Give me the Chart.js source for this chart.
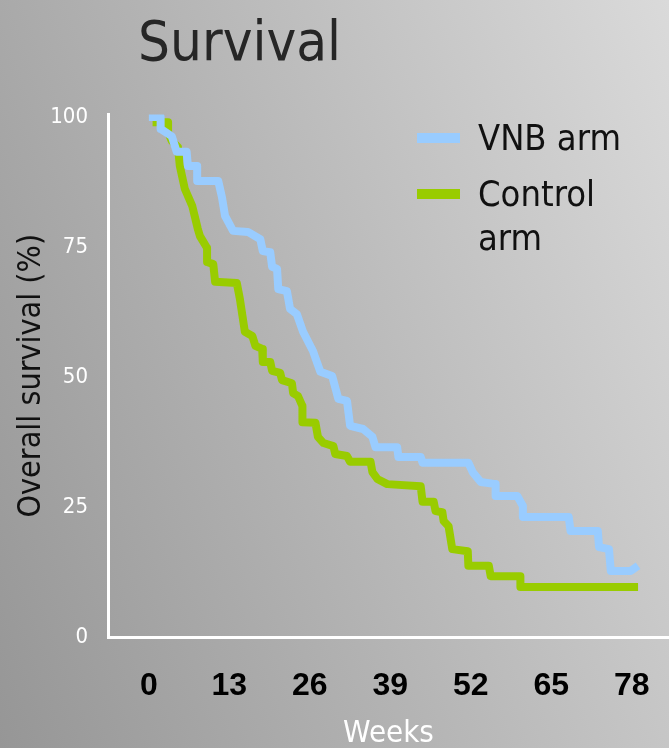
<!DOCTYPE html>
<html>
<head>
<meta charset="utf-8">
<title>Survival</title>
<script src="https://cdn.jsdelivr.net/npm/chart.js@4.4.1/dist/chart.umd.min.js"></script>
<style>
	html, body {
		margin: 0;
		padding: 0;
	}
	body {
		width: 669px;
		height: 748px;
		overflow: hidden;
		background: linear-gradient(70deg, #969696 0%, #b4b4b4 45%, #dadada 100%);
	}
	#survival {
		display: block;
	}
</style>
</head>
<body>
<canvas id="survival" width="669" height="748"></canvas>
<script>
	'use strict';

	// Kaplan-Meier curves, weeks vs. percent alive
	var vnbWeeks = [0, 1.9, 1.9, 3.7, 4.5, 6.1, 6.3, 7.8, 7.8, 11.2, 11.8, 12.3, 13.6, 16.0, 18.0, 18.4, 19.6, 19.9, 20.7, 20.9, 22.3, 22.8, 23.9, 24.9, 26.5, 27.7, 29.6, 30.6, 32.0, 32.5, 34.6, 36.1, 36.6, 40.1, 40.3, 43.9, 44.2, 51.6, 52.3, 53.6, 56.0, 56.0, 59.5, 60.4, 60.4, 67.8, 68.1, 72.5, 72.7, 74.3, 74.6, 77.8, 79.0];
	var vnbSurvival = [100, 100, 97.7, 96.3, 93.3, 93.3, 90.6, 90.6, 87.7, 87.7, 84.6, 81.0, 78.1, 77.9, 76.5, 74.2, 74.0, 71.2, 70.8, 66.9, 66.5, 63.1, 62.1, 58.7, 55.0, 51.0, 50.2, 45.8, 45.4, 40.6, 40.0, 38.5, 36.5, 36.5, 34.6, 34.6, 33.5, 33.5, 31.7, 29.8, 29.4, 27.1, 27.1, 25.2, 23.1, 23.1, 20.4, 20.4, 17.3, 16.9, 12.7, 12.7, 13.7];

	var controlWeeks = [0.6, 3.1, 3.1, 3.7, 4.7, 5.0, 5.8, 7.0, 7.9, 8.25, 9.4, 9.4, 10.4, 10.7, 14.2, 14.7, 15.5, 16.7, 17.2, 18.3, 18.4, 19.6, 19.9, 21.2, 21.5, 23.1, 23.3, 24.1, 24.8, 24.8, 26.9, 27.3, 28.2, 29.8, 30.1, 32.0, 32.5, 35.8, 36.1, 36.9, 38.5, 43.9, 44.2, 46.0, 46.3, 47.4, 47.6, 48.4, 49.0, 51.5, 51.6, 54.9, 55.2, 60.0, 60.0, 79.0];
	var controlSurvival = [99.0, 99.0, 97.1, 95.4, 94.2, 90.6, 86.2, 82.9, 78.5, 77.1, 74.8, 72.1, 71.7, 68.3, 68.1, 65.0, 58.7, 57.9, 56.0, 55.4, 52.9, 52.9, 51.2, 50.8, 49.4, 48.8, 46.9, 46.3, 44.4, 41.3, 41.2, 38.5, 37.3, 36.7, 35.2, 34.8, 33.7, 33.7, 31.7, 30.4, 29.4, 29.0, 26.0, 26.0, 24.2, 24.0, 22.3, 21.3, 16.9, 16.5, 13.7, 13.7, 11.7, 11.7, 9.6, 9.6];

	var weekTicks = [0, 13, 26, 39, 52, 65, 78];
	var survivalTicks = [0, 25, 50, 75, 100];

	var seriesLabels = ['VNB arm', ['Control', 'arm']];
	var seriesColors = ['#99ccff', '#99cc00'];

	var condensed = '"DejaVu Sans Condensed", "DejaVu Sans", sans-serif';

	function toPoints(xs, ys) {
		return xs.map(function (x, i) {
			return { x: x, y: ys[i] };
		});
	}

	// title at top left plus the legend in the upper right corner
	var headerPlugin = {
		id: 'header',
		afterDraw: function (chart) {
			var ctx = chart.ctx;
			ctx.save();
			ctx.fillStyle = '#262626';
			ctx.font = '56px ' + condensed;
			ctx.textAlign = 'left';
			ctx.textBaseline = 'alphabetic';
			ctx.fillText('Survival', 138, 60);

			var rows = [138, 194];
			chart.data.datasets.forEach(function (ds, i) {
				var y = rows[i];
				ctx.fillStyle = ds.borderColor;
				ctx.fillRect(417, y - 5, 43, 10);
				ctx.fillStyle = '#111111';
				ctx.font = '36px ' + condensed;
				ctx.textBaseline = 'middle';
				var lines = [].concat(ds.label);
				lines.forEach(function (line, j) {
					ctx.fillText(line, 478, y + 3 + j * 44);
				});
			});
			ctx.restore();
		}
	};

	var ctx = document.getElementById('survival');
	var survivalChart = new Chart(ctx, {
		type: 'line',
		data: {
			datasets: [
				{
					label: seriesLabels[0],
					data: toPoints(vnbWeeks, vnbSurvival),
					borderColor: seriesColors[0],
					borderWidth: 8,
					borderJoinStyle: 'round',
					pointRadius: 0,
					tension: 0,
					fill: false
				},
				{
					label: seriesLabels[1],
					data: toPoints(controlWeeks, controlSurvival),
					borderColor: seriesColors[1],
					borderWidth: 8,
					borderJoinStyle: 'round',
					pointRadius: 0,
					tension: 0,
					fill: false
				}
			]
		},
		options: {
			responsive: false,
			animation: false,
			events: [],
			layout: {
				padding: { top: 114.4, left: 0, right: 0, bottom: 0 }
			},
			plugins: {
				legend: { display: false },
				title: { display: false },
				tooltip: { enabled: false }
			},
			scales: {
				x: {
					type: 'linear',
					min: -6.6,
					max: 84,
					afterBuildTicks: function (scale) {
						scale.ticks = weekTicks.map(function (v) {
							return { value: v };
						});
					},
					afterFit: function (scale) {
						// axis runs to the right edge, no room kept for the labels
						scale.height = 111;
						scale.paddingLeft = 0;
						scale.paddingRight = 0;
					},
					grid: { display: false, drawTicks: false },
					border: { display: true, color: '#ffffff', width: 3 },
					ticks: {
						color: '#000000',
						padding: 30,
						maxRotation: 0,
						autoSkip: false,
						font: { family: '"Liberation Sans", Arial, sans-serif', size: 32, weight: 'bold' }
					},
					title: {
						display: true,
						text: 'Weeks',
						color: '#ffffff',
						padding: { top: 0, bottom: 0 },
						font: { family: condensed, size: 31, lineHeight: 0.9 }
					}
				},
				y: {
					type: 'linear',
					min: 0,
					max: 100.5,
					afterBuildTicks: function (scale) {
						scale.ticks = survivalTicks.map(function (v) {
							return { value: v };
						});
					},
					afterFit: function (scale) {
						scale.width = 108;
					},
					grid: { display: false, drawTicks: false },
					border: { display: true, color: '#ffffff', width: 3 },
					ticks: {
						color: '#ffffff',
						padding: 20,
						font: { family: condensed, size: 22 }
					},
					title: {
						display: true,
						text: 'Overall survival (%)',
						color: '#111111',
						padding: { top: 12, bottom: 0 },
						font: { family: condensed, size: 32 }
					}
				}
			}
		},
		plugins: [headerPlugin]
	});
</script>
</body>
</html>
